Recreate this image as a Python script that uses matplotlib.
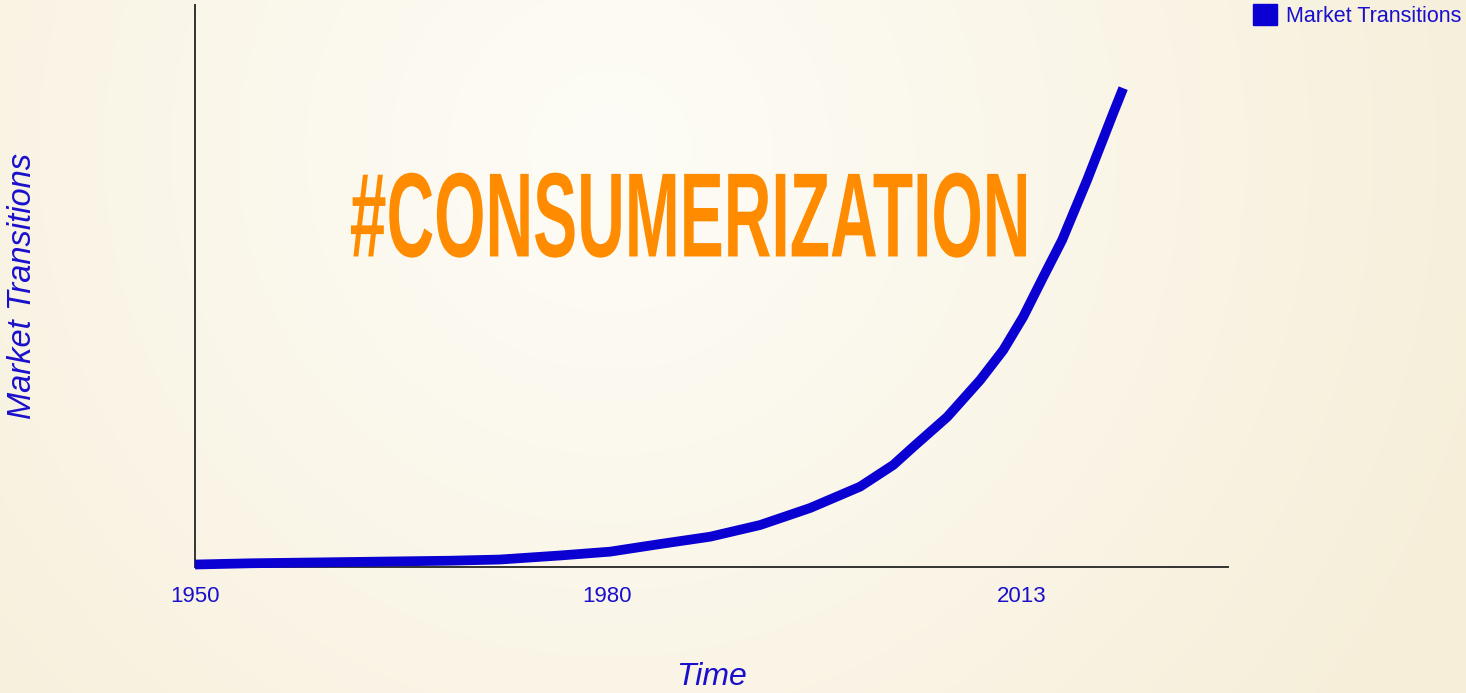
import numpy as np
import matplotlib
matplotlib.use('Agg')
import matplotlib.pyplot as plt
import matplotlib.patheffects as pe
from matplotlib.patches import Patch
from matplotlib.transforms import Affine2D

# values (x in axis steps, y in % of axis height)
x_pos = [0, 4.0, 11.28, 18.57, 22.21, 26.58, 30.22, 33.86, 37.50, 41.14,
         44.78, 48.42, 50.83, 52.28, 54.76, 57.16, 58.84, 60.29, 61.75,
         63.13, 64.95, 66.85, 67.57]
transitions = [0.44, 0.66, 0.89, 1.12, 1.33, 2.05, 2.73, 4.09, 5.39, 7.47,
               10.5, 14.3, 18.15, 21.35, 26.7, 33.27, 38.6, 44.5, 51.6,
               58.2, 68.9, 80.8, 85.2]
tick_pos = [0, 30, 60.2]
tick_labels = ['1950', '1980', '2013']

blue = '#0a00d2'
text_blue = '#1a10cc'
orange = '#ff8c00'
font = ['Liberation Sans', 'DejaVu Sans']


class Stretch(pe.AbstractPathEffect):
    # no condensed display font available, so stretch the glyphs to the
    # headline's box (centre x and bottom edge kept in place)
    def __init__(self, width_px, height_px):
        super().__init__()
        self.width_px = width_px
        self.height_px = height_px

    def draw_path(self, renderer, gc, tpath, affine, rgbFace=None):
        box = tpath.get_extents(affine)
        cx = box.x0 + box.width / 2
        sx = self.width_px / box.width
        sy = self.height_px / box.height
        tr = Affine2D().translate(-cx, -box.y0).scale(sx, sy).translate(cx, box.y0)
        renderer.draw_path(gc, tpath, affine + tr, rgbFace)


W, H = 1466, 693
fig = plt.figure(figsize=(W / 100, H / 100), dpi=100)
fig.patch.set_facecolor('none')

# soft radial background
yy, xx = np.mgrid[0:H, 0:W]
r = np.clip(np.hypot(xx - 610, yy - 150) / 950, 0, 1)
c0 = np.array([253, 252, 246]) / 255
c1 = np.array([246, 238, 216]) / 255
bg = c0 + (c1 - c0) * (r ** 1.1)[..., None]
fig.figimage(bg, zorder=-10)

ax = fig.add_axes([195 / W, 1 - 567 / H, (1228 - 195) / W, (567 - 5) / H])
ax.set_facecolor('none')

ax.plot(x_pos, transitions, color=blue, lw=7, solid_capstyle='butt',
        solid_joinstyle='round', zorder=3, clip_on=False)

ax.set_xlim(0, 75.2)
ax.set_ylim(0, 100)
for s in ['top', 'right']:
    ax.spines[s].set_visible(False)
for s in ['left', 'bottom']:
    ax.spines[s].set_color('#333333')
    ax.spines[s].set_linewidth(1.4)

ax.set_yticks([])
ax.set_xticks(tick_pos, tick_labels)
ax.tick_params(axis='x', length=0, pad=13.5, labelsize=16, labelcolor=text_blue)
for lab in ax.get_xticklabels():
    lab.set_family(font)

ax.set_xlabel('Time', fontsize=23, fontstyle='italic', color=text_blue,
              family=font, labelpad=40)
ax.set_ylabel('Market Transitions', fontsize=23.5, fontstyle='italic',
              color=text_blue, family=font)
ax.yaxis.set_label_coords(-0.152, 0.5)

fig.text(690 / W, 1 - 257 / H, '#CONSUMERIZATION', ha='center', va='baseline',
         fontsize=47, fontweight='bold', color=orange, family=font,
         path_effects=[Stretch(675, 85)])

fig.legend(handles=[Patch(color=blue, label='Market Transitions')],
           loc='upper right', bbox_to_anchor=(1.0, 1.0), frameon=False,
           handlelength=1.1, handleheight=1.1, handletextpad=0.45,
           borderaxespad=0.1, borderpad=0.1,
           prop={'family': font, 'size': 15.5}, labelcolor=text_blue)

fig.savefig('out.png', dpi=100)
